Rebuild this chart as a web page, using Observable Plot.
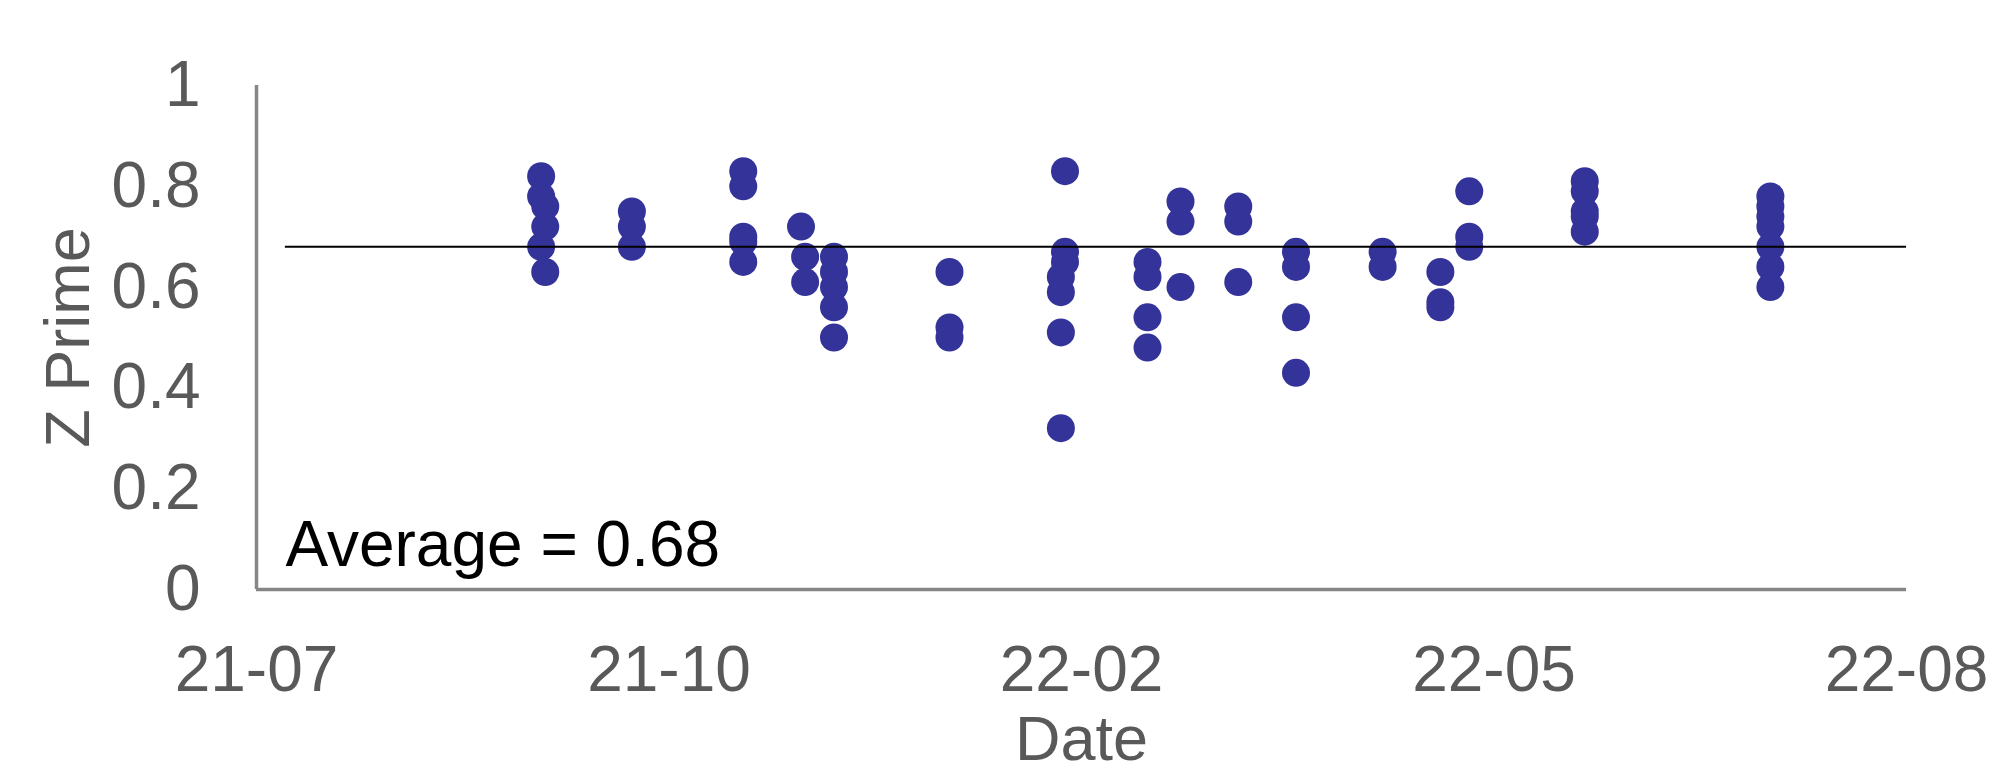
<!DOCTYPE html>
<html>
<head>
<meta charset="utf-8">
<script src="https://cdn.jsdelivr.net/npm/d3@7"></script>
<script src="https://cdn.jsdelivr.net/npm/@observablehq/plot@0.6"></script>
<style>
  html, body { margin: 0; padding: 0; background: #fff; }
  #chart svg { display: block; }
</style>
</head>
<body>
<div id="chart"></div>
<script>
// ---- data ----
const dates = [
  "2021-09-30","2021-09-30","2021-09-30",
  "2021-10-01","2021-10-01","2021-10-01",
  "2021-10-22","2021-10-22","2021-10-22",
  "2021-11-18","2021-11-18","2021-11-18","2021-11-18","2021-11-18",
  "2021-12-02",
  "2021-12-03","2021-12-03",
  "2021-12-10","2021-12-10","2021-12-10","2021-12-10","2021-12-10",
  "2022-01-07","2022-01-07","2022-01-07",
  "2022-02-04","2022-02-04","2022-02-04",
  "2022-02-03","2022-02-03","2022-02-03","2022-02-03",
  "2022-02-24","2022-02-24","2022-02-24","2022-02-24",
  "2022-03-04","2022-03-04","2022-03-04",
  "2022-03-18","2022-03-18","2022-03-18",
  "2022-04-01","2022-04-01","2022-04-01","2022-04-01",
  "2022-04-22","2022-04-22",
  "2022-05-06","2022-05-06","2022-05-06",
  "2022-05-13","2022-05-13","2022-05-13",
  "2022-06-10","2022-06-10","2022-06-10","2022-06-10","2022-06-10",
  "2022-07-25","2022-07-25","2022-07-25","2022-07-25","2022-07-25","2022-07-25","2022-07-25"
];
const zPrime = [
  0.82, 0.78, 0.68,
  0.76, 0.72, 0.63,
  0.75, 0.72, 0.68,
  0.83, 0.80, 0.70, 0.69, 0.65,
  0.72,
  0.66, 0.61,
  0.66, 0.63, 0.60, 0.56, 0.50,
  0.63, 0.52, 0.50,
  0.83, 0.67, 0.65,
  0.62, 0.59, 0.51, 0.32,
  0.65, 0.62, 0.54, 0.48,
  0.77, 0.73, 0.60,
  0.76, 0.73, 0.61,
  0.67, 0.64, 0.54, 0.43,
  0.67, 0.64,
  0.63, 0.57, 0.56,
  0.79, 0.70, 0.68,
  0.81, 0.79, 0.75, 0.74, 0.71,
  0.78, 0.76, 0.74, 0.72, 0.68, 0.64, 0.60
];
const average = 0.68;
const averageLabel = "Average = 0.68";
const xTickDates = ["2021-07-23","2021-10-31","2022-02-08","2022-05-19","2022-08-27"];
const yTicks = [0, 0.2, 0.4, 0.6, 0.8, 1];
const xTitle = "Date";
const yTitle = "Z Prime";

// ---- build table ----
const parse = d3.utcParse("%Y-%m-%d");
const points = dates.map((d, i) => ({date: parse(d), z: zPrime[i]}));
const xTicks = xTickDates.map(parse);
const xStart = xTicks[0], xEnd = xTicks[xTicks.length - 1];
const avgStart = d3.utcDay.offset(xStart, 7);

const FONT = "'Liberation Sans', Arial, Helvetica, sans-serif";
const GREY = "#595959";
const AXIS = "#868686";

const chart = Plot.plot({
  width: 1995,
  height: 773,
  marginLeft: 256,
  marginRight: 89,
  marginTop: 85,
  marginBottom: 184,
  style: {fontFamily: FONT, background: "#fff"},
  x: {type: "utc", domain: [xStart, xEnd]},
  y: {domain: [0, 1]},
  marks: [
    Plot.axisY({ticks: yTicks, tickSize: 0, tickPadding: 56, fontSize: 64, fill: GREY,
      tickFormat: d => String(+d.toFixed(1)), label: null}),
    Plot.axisX({ticks: xTicks, tickSize: 0, tickPadding: 56, fontSize: 64, fill: GREY,
      tickFormat: d3.utcFormat("%y-%m"), label: null}),
    Plot.ruleX([xStart], {stroke: AXIS, strokeWidth: 3.5}),
    Plot.ruleY([0], {stroke: AXIS, strokeWidth: 3.5}),
    Plot.dot(points, {x: "date", y: "z", r: 14, fill: "#333399", stroke: "none"}),
    Plot.ruleY([average], {x1: avgStart, x2: xEnd, stroke: "#000", strokeWidth: 2}),
    Plot.text([averageLabel], {x: avgStart, y: 0, dy: -24, text: d => d, fontSize: 64,
      fill: "#000", textAnchor: "start", lineAnchor: "bottom"}),
    Plot.text([xTitle], {frameAnchor: "bottom", dy: 170, text: d => d, fontSize: 63,
      fill: GREY, textAnchor: "middle", lineAnchor: "bottom"}),
    Plot.text([yTitle], {frameAnchor: "left", dx: -188, rotate: -90, text: d => d, fontSize: 63,
      fill: GREY, textAnchor: "middle", lineAnchor: "middle"})
  ]
});
document.getElementById("chart").appendChild(chart);
</script>
</body>
</html>
